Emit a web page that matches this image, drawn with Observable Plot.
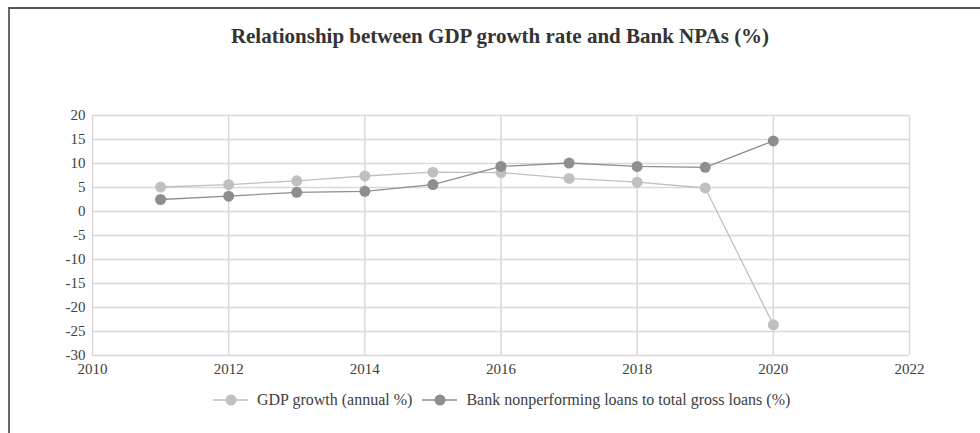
<!DOCTYPE html>
<html>
<head>
<meta charset="utf-8">
<script src="https://cdn.jsdelivr.net/npm/d3@7"></script>
<script src="https://cdn.jsdelivr.net/npm/@observablehq/plot@0.6"></script>
<style>
  html, body { margin: 0; padding: 0; background: #fff; }
  #wrap { position: relative; width: 980px; height: 433px; overflow: hidden; font-family: "Liberation Serif", "Times New Roman", serif; }
  #frame { position: absolute; left: 8px; top: 7px; width: 1000px; height: 500px; border-top: 2px solid #555; border-left: 2px solid #666; box-sizing: border-box; }
  #title { position: absolute; left: 0; width: 1000px; top: 24px; text-align: center; font-weight: bold; font-size: 21px; color: #333; }
  #chart { position: absolute; left: 0; top: 0; }
  #chart svg text { font-family: "Liberation Serif", "Times New Roman", serif !important; font-size: 15px !important; fill: #404040; }
  #legend { position: absolute; top: 391px; left: 213px; font-size: 16px; color: #404040; display: flex; align-items: center; white-space: nowrap; }
  #legend .item { display: flex; align-items: center; }
  #legend svg { margin-right: 9px; }
</style>
</head>
<body>
<div id="wrap">
  <div id="frame"></div>
  <div id="chart"></div>
  <div id="title">Relationship between GDP growth rate and Bank NPAs (%)</div>
  <div id="legend"></div>
</div>
<script>
const years = [2011, 2012, 2013, 2014, 2015, 2016, 2017, 2018, 2019, 2020];
const gdpGrowth = [5.1, 5.6, 6.4, 7.4, 8.2, 8.1, 6.9, 6.1, 4.9, -23.6];
const bankNPA = [2.5, 3.2, 4.0, 4.2, 5.6, 9.4, 10.1, 9.4, 9.2, 14.7];
const seriesNames = ["GDP growth (annual %)", "Bank nonperforming loans to total gross loans (%)"];
const seriesColors = ["#c0c0c0", "#8e8e8e"];
const xTicks = [2010, 2012, 2014, 2016, 2018, 2020, 2022];
const yTicks = [-30, -25, -20, -15, -10, -5, 0, 5, 10, 15, 20];

const gdpData = years.map((y, i) => ({year: y, value: gdpGrowth[i]}));
const npaData = years.map((y, i) => ({year: y, value: bankNPA[i]}));

const chart = Plot.plot({
  width: 980,
  height: 400,
  marginTop: 115,
  marginBottom: 45,
  marginLeft: 92,
  marginRight: 71,
  style: {fontFamily: "'Liberation Serif', 'Times New Roman', serif", fontSize: "15px", color: "#404040", background: "transparent"},
  x: {domain: [2010, 2022], label: null},
  y: {domain: [-30, 20], label: null},
  marks: [
    Plot.gridY(yTicks, {stroke: "#d9d9d9", strokeOpacity: 1, strokeWidth: 1.5}),
    Plot.gridX(xTicks, {stroke: "#d9d9d9", strokeOpacity: 1, strokeWidth: 1.5}),
    Plot.axisY({ticks: yTicks, tickFormat: d => String(d), tickSize: 0, tickPadding: 7, fontSize: 15}),
    Plot.axisX({ticks: xTicks, tickFormat: d => String(d), tickSize: 0, tickPadding: 8, fontSize: 15}),
    Plot.line(gdpData, {x: "year", y: "value", stroke: seriesColors[0], strokeWidth: 1.3}),
    Plot.dot(gdpData, {x: "year", y: "value", r: 5.5, fill: seriesColors[0]}),
    Plot.line(npaData, {x: "year", y: "value", stroke: seriesColors[1], strokeWidth: 1.3}),
    Plot.dot(npaData, {x: "year", y: "value", r: 5.5, fill: seriesColors[1]})
  ]
});
document.getElementById("chart").appendChild(chart);

const legend = document.getElementById("legend");
seriesNames.forEach((name, i) => {
  const item = document.createElement("div");
  item.className = "item";
  item.style.marginRight = i === 0 ? "10px" : "0";
  item.innerHTML = `<svg width="35" height="14"><line x1="0" y1="7" x2="35" y2="7" stroke="${seriesColors[i]}" stroke-width="1.3"/><circle cx="18" cy="7" r="5.5" fill="${seriesColors[i]}"/></svg><span>${name}</span>`;
  legend.appendChild(item);
});
</script>
</body>
</html>
